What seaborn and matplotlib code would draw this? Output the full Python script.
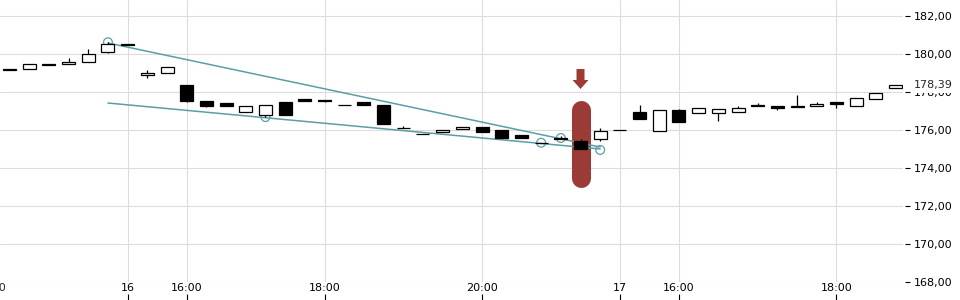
import numpy as np
import pandas as pd
import matplotlib
matplotlib.use("Agg")
import matplotlib.pyplot as plt
import seaborn as sns
from matplotlib.ticker import FuncFormatter

# ---------------- data ----------------
opens  = [179.20, 179.19, 179.47, 179.49, 179.56, 180.12, 180.52, 178.88, 178.98, 178.37,
          177.54, 177.42, 176.93, 176.77, 177.47, 177.62, 177.56, 177.33, 177.47, 177.32,
          176.09, 175.78, 175.88, 176.04, 176.16, 176.00, 175.74, 175.34, 175.60, 175.44,
          175.51, 175.99, 176.96, 175.96, 177.03, 176.91, 176.89, 176.93, 177.30, 177.28,
          177.28, 177.26, 177.47, 177.28, 177.63, 178.21]
highs  = [179.20, 179.47, 179.47, 179.77, 180.26, 180.63, 180.52, 179.16, 179.30, 178.37,
          177.54, 177.42, 177.25, 177.30, 177.47, 177.62, 177.58, 177.33, 177.47, 177.32,
          176.21, 175.78, 175.98, 176.14, 176.16, 176.00, 175.74, 175.34, 175.68, 175.51,
          176.10, 175.99, 177.32, 177.03, 177.12, 177.14, 177.09, 177.26, 177.42, 177.28,
          177.84, 177.47, 177.47, 177.67, 177.93, 178.37]
lows   = [179.18, 179.19, 179.43, 179.49, 179.56, 180.07, 180.50, 178.74, 178.98, 177.49,
          177.23, 177.26, 176.93, 176.70, 176.81, 177.55, 177.50, 177.32, 177.33, 176.33,
          176.08, 175.77, 175.88, 176.04, 175.91, 175.60, 175.60, 175.33, 175.51, 174.98,
          175.42, 175.98, 176.60, 175.96, 176.44, 176.91, 176.47, 176.93, 177.25, 177.05,
          177.23, 177.26, 177.17, 177.28, 177.63, 178.21]
closes = [179.18, 179.47, 179.43, 179.60, 179.98, 180.53, 180.50, 179.00, 179.30, 177.54,
          177.28, 177.26, 177.25, 177.30, 176.81, 177.55, 177.55, 177.32, 177.33, 176.33,
          176.08, 175.77, 175.98, 176.14, 175.91, 175.60, 175.60, 175.33, 175.51, 174.98,
          175.95, 175.98, 176.60, 177.03, 176.44, 177.14, 177.09, 177.14, 177.25, 177.17,
          177.23, 177.38, 177.38, 177.67, 177.93, 178.37]

tick_positions = [6, 9, 16, 24, 31, 34, 42]
tick_labels = ["16", "16:00", "18:00", "20:00", "17", "16:00", "18:00"]
hidden_tick_position = -1
hidden_tick_label = "20:00"
y_ticks = [168, 170, 172, 174, 176, 178, 180, 182]
last_price = 178.39

trend_upper_x = [5, 30]
trend_upper_y = [180.58, 175.10]
trend_lower_x = [5, 30]
trend_lower_y = [177.42, 175.00]
pivot_x = [5, 13, 27, 28, 30]
pivot_y = [180.62, 176.68, 175.33, 175.58, 174.95]

signal_index = 29
signal_band = [173.45, 177.03]
signal_arrow = [179.21, 178.16]

df = pd.DataFrame({"idx": np.arange(len(opens)), "open": opens, "high": highs,
                   "low": lows, "close": closes})

# ---------------- style ----------------
sns.set_theme(style="white")
plt.rcParams["font.family"] = ["DejaVu Sans"]
plt.rcParams["font.size"] = 8

TEAL = "#5b9ea5"
RED = "#9c3b36"
GRID = "#dcdcdc"

W, H = 960, 300
fig = plt.figure(figsize=(9.6, 3.0), dpi=100)
ax_right_px = 903
ax_bottom_px = 18
ax = fig.add_axes([0, ax_bottom_px / H, ax_right_px / W, (H - ax_bottom_px) / H])
ax.set_facecolor("white")

px_per_unit = 19.0
ax.set_ylim(168, 168 + (H - ax_bottom_px) / px_per_unit)
step = 19.69
ax.set_xlim(-9.5 / step, (ax_right_px - 9.5) / step)

# grid
ax.set_xticks(tick_positions)
ax.set_xticklabels(tick_labels)
ax.set_yticks(y_ticks)
ax.grid(True, color=GRID, linewidth=0.8)
ax.set_axisbelow(True)
for s in ax.spines.values():
    s.set_visible(False)

ax.tick_params(axis="x", length=0, pad=0.8, labelsize=8, colors="black")
ax.yaxis.tick_right()
ax.spines["right"].set_position(("outward", 1.5))
ax.tick_params(axis="y", which="major", right=True, left=False, length=3.6, width=0.8,
               pad=2.9, labelsize=8, colors="black", direction="out")
ax.yaxis.set_major_formatter(FuncFormatter(lambda v, p: f"{v:.2f}".replace(".", ",")))

# signal pill + arrow (behind)
ax.plot([signal_index, signal_index], signal_band, color=RED, lw=13.7,
        solid_capstyle="round", zorder=1)
ax.annotate("", xy=(signal_index, signal_arrow[1]), xytext=(signal_index, signal_arrow[0]),
            arrowprops=dict(arrowstyle="simple,head_length=0.9,head_width=1.6,tail_width=0.8",
                            mutation_scale=7.2, color=RED, shrinkA=0, shrinkB=0, lw=0),
            zorder=2)

# trend lines and pivots (seaborn)
sns.lineplot(x=trend_upper_x, y=trend_upper_y, ax=ax, color=TEAL, linewidth=1.1, zorder=3)
sns.lineplot(x=trend_lower_x, y=trend_lower_y, ax=ax, color=TEAL, linewidth=1.1, zorder=3)
sns.scatterplot(x=pivot_x, y=pivot_y, ax=ax, s=40, facecolor="none", edgecolor=TEAL,
                linewidth=0.9, zorder=3)

# candles
up = df["close"] >= df["open"]
ax.vlines(df["idx"], df["low"], df["high"], color="black", linewidth=0.9, zorder=4)
bottoms = np.minimum(df["open"], df["close"])
heights = np.abs(df["close"] - df["open"])
ax.bar(df["idx"], heights, bottom=bottoms, width=0.66,
       color=np.where(up, "white", "black"), edgecolor="black", linewidth=0.9, zorder=5)

ax.set_xlabel("")
ax.set_ylabel("")

# cut-off label at left edge
ax.annotate(hidden_tick_label, xy=(hidden_tick_position, 0), xycoords=("data", "axes fraction"),
            xytext=(0, -0.8), textcoords="offset points", ha="center", va="top",
            fontsize=8, annotation_clip=False)

# last price label (covers most of the 178,00 label)
ax.annotate(f"{last_price:.2f}".replace(".", ","), xy=(1, last_price),
            xycoords=("axes fraction", "data"), xytext=(8.1, -0.6), textcoords="offset points",
            ha="left", va="center", fontsize=8, annotation_clip=False,
            bbox=dict(boxstyle="square,pad=0.2", facecolor="white", edgecolor="none"))

# bottom tick marks at figure edge
axt = fig.add_axes([0, 0, ax_right_px / W, 6 / H])
axt.set_xlim(ax.get_xlim())
axt.set_ylim(0, 1)
axt.patch.set_visible(False)
for s in axt.spines.values():
    s.set_visible(False)
axt.set_xticks(tick_positions)
axt.set_xticklabels([])
axt.set_yticks([])
axt.tick_params(axis="x", direction="in", length=4.3, width=0.8, colors="black", bottom=True)
axt.grid(False)

fig.savefig("out.png", dpi=100)
